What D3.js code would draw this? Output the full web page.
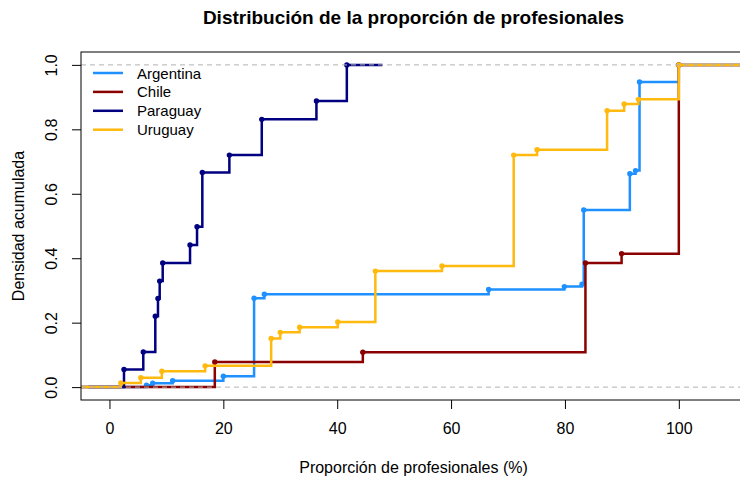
<!DOCTYPE html>
<html>
<head>
<meta charset="utf-8">
<script src="https://cdn.jsdelivr.net/npm/d3@7"></script>
<style>
    body { margin: 0; background: #ffffff; }
    svg { display: block; font-family: "Liberation Sans", Arial, sans-serif; }
</style>
</head>
<body>
<div id="chart"></div>
<script>
// ECDF jump points: x = % profesionales, y = cumulative density
const seriesNames = ["Argentina", "Chile", "Paraguay", "Uruguay"];
const seriesColors = ["#1E90FF", "#8B0000", "#000080", "#FFB90F"];

const argentinaX = [6.5, 7.6, 11.1, 20.0, 25.4, 27.2, 66.6, 79.9, 83.0, 83.3, 91.4, 92.4, 93.1, 100];
const argentinaY = [0.006, 0.012, 0.020, 0.034, 0.276, 0.288, 0.303, 0.312, 0.319, 0.550, 0.662, 0.672, 0.947, 1.0];

const chileX = [18.5, 44.5, 83.6, 89.95, 100];
const chileY = [0.078, 0.108, 0.385, 0.414, 1.0];

const paraguayX = [2.55, 5.94, 8.05, 8.52, 8.82, 9.35, 14.15, 15.38, 16.31, 21.06, 26.75, 36.35, 41.69];
const paraguayY = [0.055, 0.109, 0.220, 0.275, 0.329, 0.385, 0.441, 0.498, 0.666, 0.720, 0.831, 0.888, 1.0];

const uruguayX = [2.0, 5.5, 9.2, 16.8, 28.4, 30.0, 33.4, 40.1, 46.7, 58.4, 71.0, 75.1, 87.4, 90.4, 92.9, 100];
const uruguayY = [0.013, 0.029, 0.049, 0.066, 0.151, 0.170, 0.186, 0.202, 0.360, 0.376, 0.720, 0.737, 0.858, 0.879, 0.893, 1.0];

const seriesX = [argentinaX, chileX, paraguayX, uruguayX];
const seriesY = [argentinaY, chileY, paraguayY, uruguayY];

const xTicks = [0, 20, 40, 60, 80, 100];
const yTicks = [0, 0.2, 0.4, 0.6, 0.8, 1.0];

const W = 740;
const H = 478;
const plot = { left: 81, right: 746, top: 52, bottom: 400 };

const svg = d3.select("#chart").append("svg").attr("width", W).attr("height", H);

const x = d3.scaleLinear().domain([-5.0, 111.8]).range([plot.left, plot.right]);
const y = d3.scaleLinear().domain([-0.04, 1.04]).range([plot.bottom, plot.top]);

svg.append("clipPath").attr("id", "plotClip")
    .append("rect")
    .attr("x", plot.left).attr("y", plot.top)
    .attr("width", plot.right - plot.left).attr("height", plot.bottom - plot.top);

const marks = svg.append("g").attr("clip-path", "url(#plotClip)");

// same extension rule as R's plot.stepfun
const stepExtent = (knots) => {
    const diffs = d3.pairs(knots, (a, b) => b - a);
    const dr = Math.max(0.08 * (d3.max(knots) - d3.min(knots)), d3.median(diffs));
    return [d3.min(knots) - 2 * dr, d3.max(knots) + 2 * dr];
};

const stepLine = d3.line().x((d) => x(d[0])).y((d) => y(d[1])).curve(d3.curveStepAfter);

seriesNames.forEach((name, i) => {
    const xs = seriesX[i];
    const ys = seriesY[i];
    const [x0, x1] = stepExtent(xs);
    const pts = [[x0, 0]].concat(xs.map((v, j) => [v, ys[j]]), [[x1, ys[ys.length - 1]]]);

    marks.append("path")
        .attr("d", stepLine(pts))
        .attr("fill", "none")
        .attr("stroke", seriesColors[i])
        .attr("stroke-width", 2.5);

    marks.append("g")
        .selectAll("circle")
        .data(xs.map((v, j) => [v, ys[j]]))
        .enter()
        .append("circle")
        .attr("cx", (d) => x(d[0]))
        .attr("cy", (d) => y(d[1]))
        .attr("r", 2.7)
        .attr("fill", seriesColors[i]);
});

// 0 / 1 reference lines
marks.append("g")
    .selectAll("line")
    .data([0, 1])
    .enter()
    .append("line")
    .attr("x1", plot.left).attr("x2", plot.right)
    .attr("y1", (d) => y(d)).attr("y2", (d) => y(d))
    .attr("stroke", "#b3b3b3")
    .attr("stroke-width", 1)
    .attr("stroke-dasharray", "5,4");

// box
svg.append("rect")
    .attr("x", plot.left).attr("y", plot.top)
    .attr("width", plot.right - plot.left).attr("height", plot.bottom - plot.top)
    .attr("fill", "none")
    .attr("stroke", "#000")
    .attr("stroke-width", 1);

// x axis
const xAxis = d3.axisBottom(x).tickValues(xTicks).tickSize(9).tickPadding(14).tickFormat(d3.format("d"));
svg.append("g")
    .attr("transform", `translate(0,${plot.bottom})`)
    .call(xAxis)
    .call((g) => {
        g.select(".domain").remove();
        g.selectAll(".tick line").attr("stroke", "#000");
        g.selectAll(".tick text")
            .attr("fill", "#000")
            .style("font-size", "16px")
            .style("font-family", "'Liberation Sans', Arial, sans-serif");
    });

// y axis, labels parallel to the axis like R's default
const yAxis = d3.axisLeft(y).tickValues(yTicks).tickSize(9).tickFormat(d3.format(".1f"));
svg.append("g")
    .attr("transform", `translate(${plot.left},0)`)
    .call(yAxis)
    .call((g) => {
        g.select(".domain").remove();
        g.selectAll(".tick line").attr("stroke", "#000");
        g.selectAll(".tick text")
            .attr("fill", "#000")
            .attr("x", 0)
            .attr("dy", null)
            .attr("text-anchor", "middle")
            .attr("transform", "translate(-24,0) rotate(-90)")
            .attr("y", 0)
            .style("font-size", "16px")
            .style("font-family", "'Liberation Sans', Arial, sans-serif");
    });

svg.append("text")
    .attr("x", (plot.left + plot.right) / 2)
    .attr("y", 24)
    .attr("text-anchor", "middle")
    .style("font-size", "19px")
    .style("font-weight", "bold")
    .text("Distribución de la proporción de profesionales");

svg.append("text")
    .attr("x", (plot.left + plot.right) / 2)
    .attr("y", 473)
    .attr("text-anchor", "middle")
    .style("font-size", "16px")
    .text("Proporción de profesionales (%)");

svg.append("text")
    .attr("transform", `translate(24,${(plot.top + plot.bottom) / 2}) rotate(-90)`)
    .attr("text-anchor", "middle")
    .style("font-size", "16px")
    .text("Densidad acumulada");

// legend, no frame
const legend = svg.append("g").attr("transform", "translate(93,73)");
const legendRows = legend.selectAll("g")
    .data(seriesNames)
    .enter()
    .append("g")
    .attr("transform", (d, i) => `translate(0,${i * 18.9})`);

legendRows.append("line")
    .attr("x1", 0).attr("x2", 30)
    .attr("stroke", (d, i) => seriesColors[i])
    .attr("stroke-width", 2.5);

legendRows.append("text")
    .attr("x", 44)
    .attr("y", 5.5)
    .style("font-size", "15px")
    .text((d) => d);
</script>
</body>
</html>
